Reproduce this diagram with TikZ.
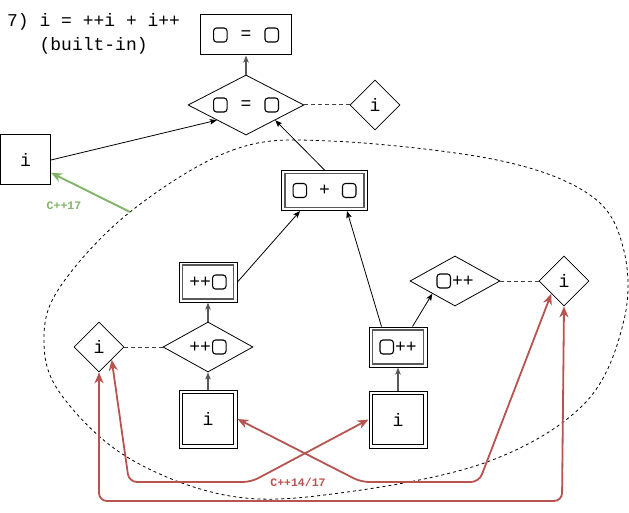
\documentclass[tikz,border=0pt]{standalone}
\usepackage{fontspec}
\usetikzlibrary{shapes.geometric,arrows.meta,calc}
\newfontfamily\cour{Liberation Mono}
\definecolor{redc}{HTML}{B85450}
\definecolor{greenc}{HTML}{82B366}
\newcommand{\sqb}{\tikz[baseline=0pt]\draw[line width=1.1pt,rounded corners=3pt] (0pt,-2pt) rectangle (13.5pt,12pt);}
\begin{document}
\begin{tikzpicture}[x=1pt,y=-1pt,
  txt/.style={font=\cour\fontsize{18}{22}\selectfont, inner sep=0pt},
  lbl/.style={font=\cour\bfseries\fontsize{11.5}{13}\selectfont, inner sep=0pt},
  box/.style={txt, draw, rectangle, line width=1pt},
  dmd/.style={txt, draw, diamond, aspect=2, line width=0.8pt},
  innerbox/.style={draw=black!65, line width=1.3pt},
  innerboxi/.style={draw=black, line width=1pt},
  arr/.style={-{Stealth[length=7pt,width=5.5pt,inset=1.5pt]}, line width=0.8pt},
  garr/.style={-{Stealth[length=7pt,width=5.5pt,inset=1.5pt]}, line width=1.1pt, draw=black!65},
  dotline/.style={draw=black!75, line width=1pt, dash pattern=on 4pt off 3pt},
  blob/.style={draw=black, line width=0.8pt, dash pattern=on 3pt off 3pt},
  redarr/.style={draw=redc, line width=1.8pt, rounded corners=8pt,
    {Stealth[length=11pt,width=9pt,inset=3.5pt]}-{Stealth[length=11pt,width=9pt,inset=3.5pt]}},
  grnarr/.style={draw=greenc, line width=1.9pt, -{Stealth[length=11pt,width=9pt,inset=3.5pt]}}
]
\useasboundingbox (0,0) rectangle (629,513);

% title
\node[txt, anchor=base west] (t1) at (7,27) {7) i = ++i + i++};
\node[txt, anchor=base west] (t2) at (7,51) {\phantom{7) }(built-in)};

% dashed blob
\draw[blob] plot[smooth cycle, tension=0.6] coordinates {
  (130,212) (233,150) (330,141) (497,160) (590,195) (623,247) (624,320)
  (585,403) (487,462) (340,493) (230,496) (127,457) (60,393) (44,340) (60,287)};

% nodes
\node[box, minimum width=91pt, minimum height=40pt] (top) at (246,35) {\sqb\hspace{13pt}=\hspace{13pt}\sqb};
\node[dmd, minimum width=116pt, minimum height=60pt] (D1) at (246,105) {\sqb\hspace{13pt}=\hspace{13pt}\sqb};
\node[dmd, aspect=1, minimum width=50pt, minimum height=50pt] (TRi) at (375,105) {i};
\node[box, minimum width=50pt, minimum height=50pt] (Lf) at (25.5,160) {i};

\node[box, minimum width=86pt, minimum height=40pt] (P) at (324.5,190.5) {\sqb\hspace{12pt}+\hspace{12pt}\sqb};
\node[box, minimum width=58pt, minimum height=40pt] (PreB) at (208,282) {++\hspace{1pt}\sqb};
\node[dmd, aspect=1.8, minimum width=90pt, minimum height=50pt] (PreD) at (208,347) {++\hspace{1pt}\sqb};
\node[dmd, aspect=1, minimum width=50pt, minimum height=50pt] (Li) at (99,347) {i};
\node[box, minimum width=58pt, minimum height=58pt] (LI) at (208,419) {i};

\node[box, minimum width=58pt, minimum height=40pt] (PostB) at (398,347) {\sqb\hspace{1pt}++};
\node[box, minimum width=58pt, minimum height=57pt] (RI) at (398,419.5) {i};
\node[dmd, aspect=1.8, minimum width=90pt, minimum height=50pt] (PostD) at (455,281) {\sqb\hspace{1pt}++};
\node[dmd, aspect=1, minimum width=50pt, minimum height=50pt] (Ri) at (564,281) {i};

% inner rectangles of double boxes
\draw[innerbox] ($(P.north west)+(4,3.5)$) rectangle ($(P.south east)+(-4,-3.5)$);
\draw[innerbox] ($(PreB.north west)+(4,3.5)$) rectangle ($(PreB.south east)+(-4,-3.5)$);
\draw[innerbox] ($(PostB.north west)+(4,3.5)$) rectangle ($(PostB.south east)+(-4,-3.5)$);
\draw[innerboxi] ($(LI.north west)+(4,4)$) rectangle ($(LI.south east)+(-4,-4)$);
\draw[innerboxi] ($(RI.north west)+(4,4)$) rectangle ($(RI.south east)+(-4,-4)$);

% dashed links
\draw[dotline] (D1.east) -- (TRi.west);
\draw[dotline] (PreD.west) -- (Li.east);
\draw[dotline] (PostD.east) -- (Ri.west);

% black arrows
\draw[garr] (D1.north) -- (top.south);
\draw[arr] (Lf.east) -- (D1.south west);
\draw[arr] (P.north) -- (D1.south east);
\draw[arr] (PreB.east) -- ([xshift=19pt]P.south west);
\draw[arr] ([xshift=13pt]PostB.north west) -- ([xshift=-21pt]P.south east);
\draw[arr] ([xshift=-15pt]PostB.north east) -- (PostD.south west);
\draw[garr] (PreD.north) -- (PreB.south);
\draw[garr] (LI.north) -- (PreD.south);
\draw[garr] (RI.north) -- (PostB.south);

% green arrow
\coordinate (g0) at (130,212);
\draw[grnarr] (g0) -- ($(Lf.east)!0.5!(Lf.south east)$);
\node[lbl, text=greenc] (g17) at (64,206) {C++17};

% red arrows
\draw[redarr] (Li.south east) -- (129,482) -- (251,482) -- (RI.west);
\draw[redarr] (LI.east) -- (361,482) -- (479,482) -- (Ri.south west);
\draw[redarr] (Li.south) -- (99,501) -- (562,501) -- (Ri.south);
\node[lbl, text=redc] (r17) at (298,482) {C++14/17};
\end{tikzpicture}
\end{document}
